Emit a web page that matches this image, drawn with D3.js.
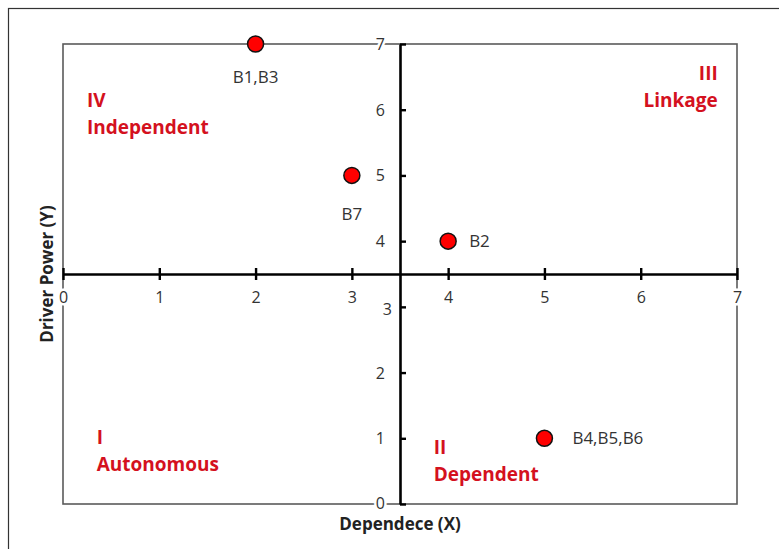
<!DOCTYPE html>
<html>
<head>
<meta charset="utf-8">
<script src="https://cdn.jsdelivr.net/npm/d3@7"></script>
<style>
  body { margin: 0; background: #fff; }
  text { font-family: "Open Sans", "Liberation Sans", sans-serif; }
  .tick-label { font-size: 16px; fill: #333; paint-order: stroke; stroke: #fff; stroke-width: 5px; }
  .axis-title { font-size: 17px; font-weight: bold; fill: #222; }
  .quad { font-size: 19px; font-weight: bold; fill: #d4111e; }
  .pt-label { font-size: 17px; fill: #333; }
</style>
</head>
<body>
<div id="chart"></div>
<script>
// data
var xTicks = [0, 1, 2, 3, 4, 5, 6, 7];
var yTicks = [0, 1, 2, 3, 4, 5, 6, 7];
var pointX = [2, 3, 4, 5];
var pointY = [7, 5, 4, 1];
var pointLabels = ['B1,B3', 'B7', 'B2', 'B4,B5,B6'];
var quadNumerals = ['I', 'II', 'III', 'IV'];
var quadNames = ['Autonomous', 'Dependent', 'Linkage', 'Independent'];

const W = 779, H = 549;
const plotLeft = 63, plotRight = 737, plotTop = 44, plotBottom = 504;

var svg = d3.select('#chart').append('svg')
    .attr('width', W)
    .attr('height', H);

// outer frame (runs off the picture on the right and bottom)
svg.append('rect')
    .attr('x', 8.5).attr('y', 8.5)
    .attr('width', W + 20).attr('height', H + 20)
    .attr('fill', 'none').attr('stroke', '#333').attr('stroke-width', 1.2);

var xScale = d3.scaleLinear().domain([0, 7]).range([plotLeft, plotRight]);
var yScale = d3.scaleLinear().domain([0, 7]).range([plotBottom, plotTop]);

// plot area border
svg.append('rect')
    .attr('x', xScale(0)).attr('y', yScale(7))
    .attr('width', xScale(7) - xScale(0))
    .attr('height', yScale(0) - yScale(7))
    .attr('fill', 'none').attr('stroke', '#5a5a5a').attr('stroke-width', 1.6);

// horizontal axis through y = 3.5
var xAxis = d3.axisBottom(xScale)
    .tickValues(xTicks)
    .tickFormat(d3.format('d'))
    .tickSize(6)
    .tickSizeOuter(0)
    .tickPadding(12);
var gx = svg.append('g')
    .attr('transform', 'translate(0,' + yScale(3.5) + ')')
    .call(xAxis);
gx.select('.domain').attr('stroke', '#000').attr('stroke-width', 2.6);
gx.selectAll('.tick line').attr('y1', -6).attr('stroke', '#000').attr('stroke-width', 2.4);
gx.selectAll('.tick text').attr('class', 'tick-label').attr('font-size', null).attr('font-family', null);

// vertical axis through x = 3.5
var yAxis = d3.axisLeft(yScale)
    .tickValues(yTicks)
    .tickFormat(d3.format('d'))
    .tickSize(6)
    .tickSizeOuter(0)
    .tickPadding(15);
var gy = svg.append('g')
    .attr('transform', 'translate(' + xScale(3.5) + ',0)')
    .call(yAxis);
gy.select('.domain').attr('stroke', '#000').attr('stroke-width', 2.6);
gy.selectAll('.tick line').attr('x2', 6).attr('stroke', '#000').attr('stroke-width', 2.4);
gy.selectAll('.tick text').attr('class', 'tick-label').attr('font-size', null).attr('font-family', null)
    .attr('x', function (d) { return d === 3 ? -8 : -15; })
    .attr('dy', function (d) { return d === 3 ? '0.5em' : (d === 0 ? '0.25em' : '0.34em'); });
gy.raise();
gx.selectAll('.tick text').raise();

// axis titles
svg.append('text')
    .attr('class', 'axis-title')
    .attr('text-anchor', 'middle')
    .attr('x', xScale(3.5))
    .attr('y', 530)
    .text('Dependece (X)');
svg.append('text')
    .attr('class', 'axis-title')
    .attr('text-anchor', 'middle')
    .attr('transform', 'translate(53,' + yScale(3.5) + ') rotate(-90)')
    .text('Driver Power (Y)');

// quadrant labels: position in data units, anchor
var quadPos = [
    { x: 0.35, y: 1.0, anchor: 'start' },
    { x: 3.85, y: 0.85, anchor: 'start' },
    { x: 6.8, y: 6.55, anchor: 'end' },
    { x: 0.25, y: 6.13, anchor: 'start' }
];
quadNumerals.forEach(function (n, i) {
    var p = quadPos[i];
    var t = svg.append('text')
        .attr('class', 'quad')
        .attr('text-anchor', p.anchor)
        .attr('x', xScale(p.x))
        .attr('y', yScale(p.y) + 6);
    t.append('tspan').attr('x', xScale(p.x)).text(n);
    t.append('tspan').attr('x', xScale(p.x)).attr('dy', 27).text(quadNames[i]);
});

// points
var points = pointX.map(function (d, i) {
    return { x: d, y: pointY[i], label: pointLabels[i] };
});
var labelOffset = [
    { dx: 0, dy: 39, anchor: 'middle' },
    { dx: 0, dy: 45, anchor: 'middle' },
    { dx: 21, dy: 6, anchor: 'start' },
    { dx: 28, dy: 6, anchor: 'start' }
];

svg.selectAll('.pt')
    .data(points).enter()
    .append('circle')
    .attr('class', 'pt')
    .attr('cx', function (d) { return xScale(d.x); })
    .attr('cy', function (d) { return yScale(d.y); })
    .attr('r', 8)
    .attr('fill', '#ff0000')
    .attr('stroke', '#111')
    .attr('stroke-width', 1.5);

svg.selectAll('.pt-label')
    .data(points).enter()
    .append('text')
    .attr('class', 'pt-label')
    .attr('text-anchor', function (d, i) { return labelOffset[i].anchor; })
    .attr('x', function (d, i) { return xScale(d.x) + labelOffset[i].dx; })
    .attr('y', function (d, i) { return yScale(d.y) + labelOffset[i].dy; })
    .text(function (d) { return d.label; });
</script>
</body>
</html>
